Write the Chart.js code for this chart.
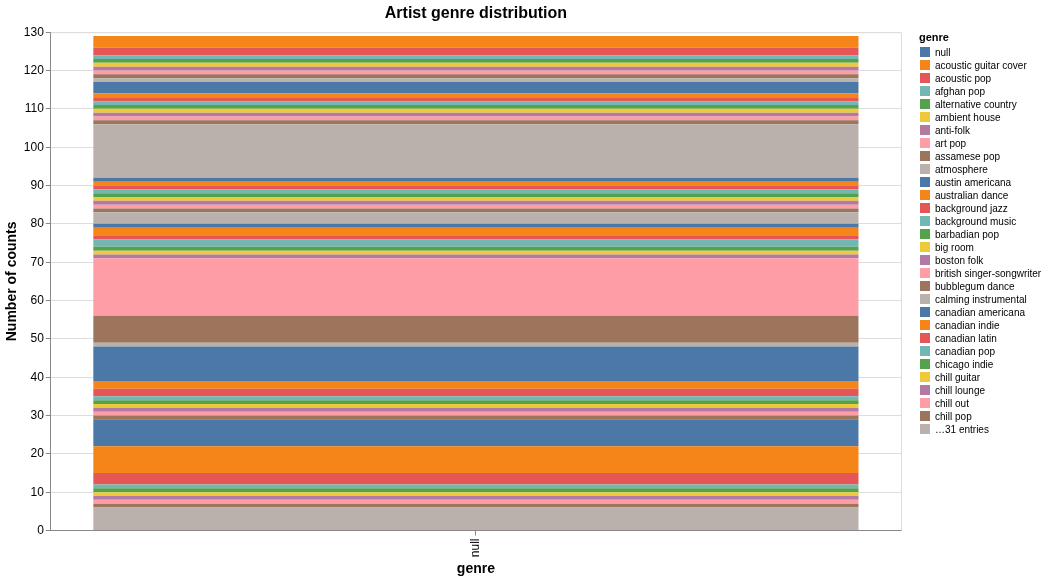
<!DOCTYPE html>
<html>
<head>
<meta charset="utf-8">
<script src="https://cdn.jsdelivr.net/npm/chart.js@4.4.1/dist/chart.umd.min.js"></script>
<style>
    body { margin: 0; background: #fff; font-family: "Liberation Sans", Arial, sans-serif; }
    #wrap { position: relative; width: 1048px; height: 581px; }
    #legend { position: absolute; left: 919px; top: 30px; color: #000; }
    #legend .title { font-weight: bold; font-size: 11px; height: 16px; line-height: 14px; }
    #legend .item { font-size: 10px; height: 13px; line-height: 13px; white-space: nowrap; }
    #legend .swatch { display: inline-block; width: 10px; height: 10px; margin: 0 5px 0 1px; vertical-align: -1px; }
</style>
</head>
<body>
<div id="wrap">
    <canvas id="chart" width="1048" height="581"></canvas>
    <div id="legend"></div>
</div>
<script>
// genres in legend order; names past "chill pop" are not readable in the picture
const genres = [
    "null", "acoustic guitar cover", "acoustic pop", "afghan pop", "alternative country",
    "ambient house", "anti-folk", "art pop", "assamese pop", "atmosphere",
    "austin americana", "australian dance", "background jazz", "background music", "barbadian pop",
    "big room", "boston folk", "british singer-songwriter", "bubblegum dance", "calming instrumental",
    "canadian americana", "canadian indie", "canadian latin", "canadian pop", "chicago indie",
    "chill guitar", "chill lounge", "chill out", "chill pop"
];
for (let i = genres.length; i < 60; i++) genres.push("unlisted genre " + (i + 1));

const counts = [
    0, 3, 2, 1, 1, 1, 1, 1, 1, 1,
    3, 1, 1, 1, 1, 1, 1, 1, 1, 14,
    1, 1, 1, 1, 1, 1, 1, 1, 1, 3,
    1, 2, 1, 2, 1, 1, 1, 15, 7, 1,
    9, 2, 2, 1, 1, 1, 1, 1, 1, 0,
    7, 7, 3, 1, 1, 1, 1, 1, 1, 6
];

const categories = ["null"];
const yTicks = { min: 0, max: 130, step: 10 };
const palette = ["#4c78a8", "#f58518", "#e45756", "#72b7b2", "#54a24b",
                 "#eeca3b", "#b279a2", "#ff9da6", "#9d755d", "#bab0ac"];
const legendShown = 29;

const FONT = "'Liberation Sans', Arial, sans-serif";

// last genre sits at the bottom of the stack
let datasets = genres.map(function (g, i) {
    return {
        label: g,
        data: [counts[i]],
        backgroundColor: palette[i % palette.length],
        borderWidth: 0
    };
}).reverse();

const frameLines = {
    id: 'frameLines',
    beforeDatasetsDraw(chart) {
        const a = chart.chartArea, c = chart.ctx;
        c.save();
        c.strokeStyle = '#ddd';
        c.lineWidth = 1;
        c.beginPath();
        c.moveTo(a.left, a.top + 0.5);
        c.lineTo(a.right + 0.5, a.top + 0.5);
        c.lineTo(a.right + 0.5, a.bottom);
        c.stroke();
        c.restore();
    }
};

new Chart(document.getElementById('chart'), {
    type: 'bar',
    data: { labels: categories, datasets: datasets },
    plugins: [frameLines],
    options: {
        responsive: false,
        animation: false,
        layout: { padding: { left: 0, right: 147, top: 0, bottom: 0 } },
        datasets: { bar: { barPercentage: 0.9, categoryPercentage: 1.0 } },
        plugins: {
            legend: { display: false },
            tooltip: { enabled: false },
            title: {
                display: true,
                fullSize: false,
                text: 'Artist genre distribution',
                color: '#000',
                font: { family: FONT, size: 16, weight: 'bold' },
                padding: { top: 4, bottom: 9 }
            }
        },
        scales: {
            x: {
                stacked: true,
                grid: { drawOnChartArea: false, offset: false, tickColor: '#888', tickLength: 5 },
                border: { color: '#888' },
                ticks: { color: '#000', font: { family: FONT, size: 12 }, minRotation: 90, maxRotation: 90, padding: 3 },
                title: {
                    display: true, text: 'genre', color: '#000',
                    font: { family: FONT, size: 14, weight: 'bold' },
                    padding: { top: 1, bottom: 3 }
                }
            },
            y: {
                stacked: true,
                min: yTicks.min,
                max: yTicks.max,
                grid: { color: '#ddd', tickColor: '#888', tickLength: 5 },
                border: { color: '#888' },
                ticks: { stepSize: yTicks.step, color: '#000', font: { family: FONT, size: 12 }, padding: 2 },
                title: {
                    display: true, text: 'Number of counts', color: '#000',
                    font: { family: FONT, size: 14, weight: 'bold' },
                    padding: { top: 4, bottom: 1 }
                }
            }
        }
    }
});

// legend: first entries plus a "more" line, like the original
let legend = document.getElementById('legend');
let html = '<div class="title">genre</div>';
for (let i = 0; i < legendShown; i++) {
    html += '<div class="item"><span class="swatch" style="background:' + palette[i % palette.length] +
        '"></span>' + genres[i] + '</div>';
}
html += '<div class="item"><span class="swatch" style="background:' + palette[legendShown % palette.length] +
    '"></span>…' + (genres.length - legendShown) + ' entries</div>';
legend.innerHTML = html;
</script>
</body>
</html>
